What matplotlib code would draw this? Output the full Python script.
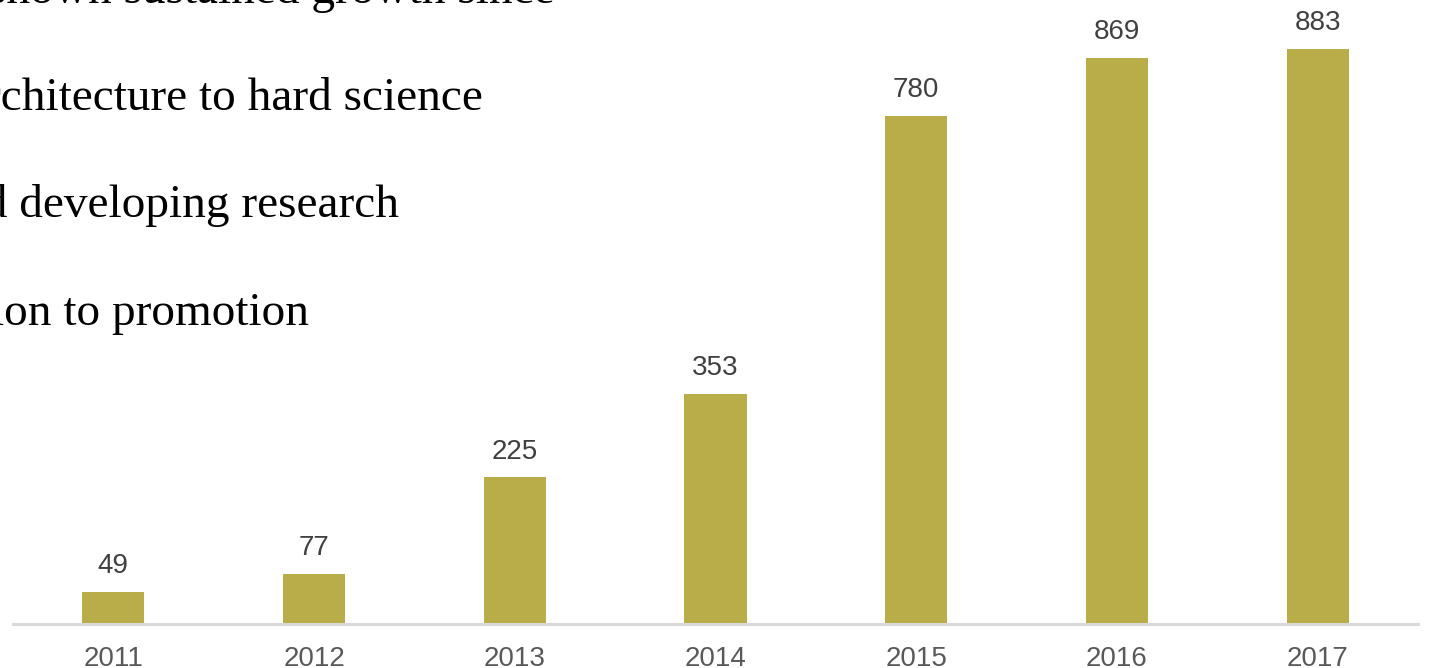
import matplotlib.pyplot as plt

# values
years = ['2011', '2012', '2013', '2014', '2015', '2016', '2017']
counts = [49, 77, 225, 353, 780, 869, 883]

# bullet text behind the chart (cut off at the left/top edge)
lines = [
    "shown sustained growth since",
    "architecture to hard science",
    "and developing research",
    "ion to promotion",
]
line_right = [555, 483, 399, 309]      # right edge of each line, px
line_base = [3, 110, 217, 325]         # baseline of each line, px from top

W, H = 1430, 668
fig = plt.figure(figsize=(W / 100, H / 100), dpi=100)

# serif overlay text
for txt, xr, yb in zip(lines, line_right, line_base):
    fig.text(xr / W, 1 - yb / H, txt, ha='right', va='baseline',
             fontsize=34, family='Liberation Serif', color='black')

ax = fig.add_axes([13 / W, 44 / H, 1405 / W, 624 / H])
ax.patch.set_alpha(0)
x = list(range(len(years)))
bars = ax.bar(x, counts, width=0.31, color='#B8AD48')

for xi, c in zip(x, counts):
    ax.annotate(str(c), (xi, c), xytext=(0, 13.5), textcoords='offset points',
                ha='center', va='baseline', fontsize=20,
                family='Liberation Sans', color='#404040')

ax.set_xlim(-0.5, 6.5)
ax.set_ylim(0, 958)
ax.set_xticks(x)
ax.set_xticklabels(years, fontsize=20, family='Liberation Sans', color='#595959')
ax.tick_params(axis='x', length=0, pad=15.5)
ax.set_yticks([])
for s in ['top', 'right', 'left']:
    ax.spines[s].set_visible(False)
ax.spines['bottom'].set_color('#D9D9D9')
ax.spines['bottom'].set_linewidth(2.2)

fig.savefig('out.png', dpi=100)
